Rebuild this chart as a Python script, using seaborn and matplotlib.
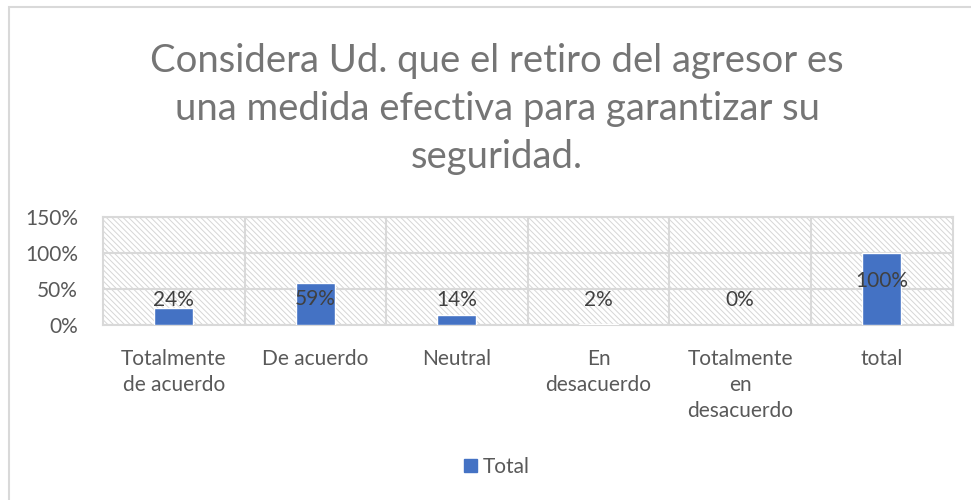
import matplotlib.pyplot as plt
import seaborn as sns
from matplotlib.patches import Rectangle

categories = ['Totalmente\nde acuerdo', 'De acuerdo', 'Neutral', 'En\ndesacuerdo',
              'Totalmente\nen\ndesacuerdo', 'total']
values = [24, 59, 14, 2, 0, 100]
value_labels = ['24%', '59%', '14%', '2%', '0%', '100%']
yticks = [0, 50, 100, 150]
title = 'Considera Ud. que el retiro del agresor es\nuna medida efectiva para garantizar su\nseguridad.'

sns.set_theme(style='white')
plt.rcParams['font.family'] = ['Lato', 'DejaVu Sans']

bar_color = '#4472C4'
grid_color = '#d9d9d9'

fig = plt.figure(figsize=(9.71, 5.0), dpi=100)
ax = fig.add_axes([0.106, 0.35, 0.875, 0.216])

# outer chart border (only top/left visible in the crop)
fig.patches.append(Rectangle((9 / 971, -0.1), 1.2, 1 - 7 / 500 + 0.1, transform=fig.transFigure,
                             fill=False, edgecolor=grid_color, linewidth=1.5))

# hatched plot area
plt.rcParams['hatch.linewidth'] = 0.7
ax.add_patch(Rectangle((0, 0), 1, 1, transform=ax.transAxes, facecolor='white',
                       edgecolor='#d6d6d6', hatch='\\\\\\\\\\\\', linewidth=0, zorder=0))

sns.barplot(x=list(range(len(values))), y=values, color=bar_color, width=0.275,
            saturation=1, ax=ax, zorder=3)

ax.set_xlim(-0.5, len(values) - 0.5)
ax.set_ylim(0, 150)
ax.set_yticks(yticks)
ax.set_yticklabels([f'{t}%' for t in yticks])
ax.set_xticks(range(len(categories)))
ax.set_xticklabels(categories, linespacing=1.4, va='top')
ax.set_xticks([i + 0.5 for i in range(len(categories) - 1)], minor=True)
ax.tick_params(axis='both', which='both', length=0, labelsize=15, colors='#595959')
ax.tick_params(axis='x', pad=17)
ax.tick_params(axis='y', pad=18)
ax.grid(True, axis='y', color=grid_color, linewidth=1.5, zorder=1)
ax.grid(True, axis='x', which='minor', color=grid_color, linewidth=1.5, zorder=1)
ax.grid(False, axis='x', which='major')
ax.set_axisbelow(True)
for s in ax.spines.values():
    s.set_color(grid_color)
    s.set_linewidth(1.5)
ax.set_xlabel('')
ax.set_ylabel('')

for i, (v, lab) in enumerate(zip(values, value_labels)):
    ax.text(i, max(35, 0.61 * v), lab, ha='center', va='center', fontsize=15,
            color='#404040', zorder=4)

fig.text(0.512, 0.782, title, ha='center', va='center', fontsize=27.5, color='#757575',
         linespacing=1.42)

fig.legend(handles=[Rectangle((0, 0), 1, 1, color=bar_color)], labels=['Total'],
           loc='center', bbox_to_anchor=(0.512, 0.066), frameon=False, fontsize=15,
           handlelength=0.6, handleheight=0.6, handletextpad=0.3, labelcolor='#595959')

fig.savefig('out.png', dpi=100)
